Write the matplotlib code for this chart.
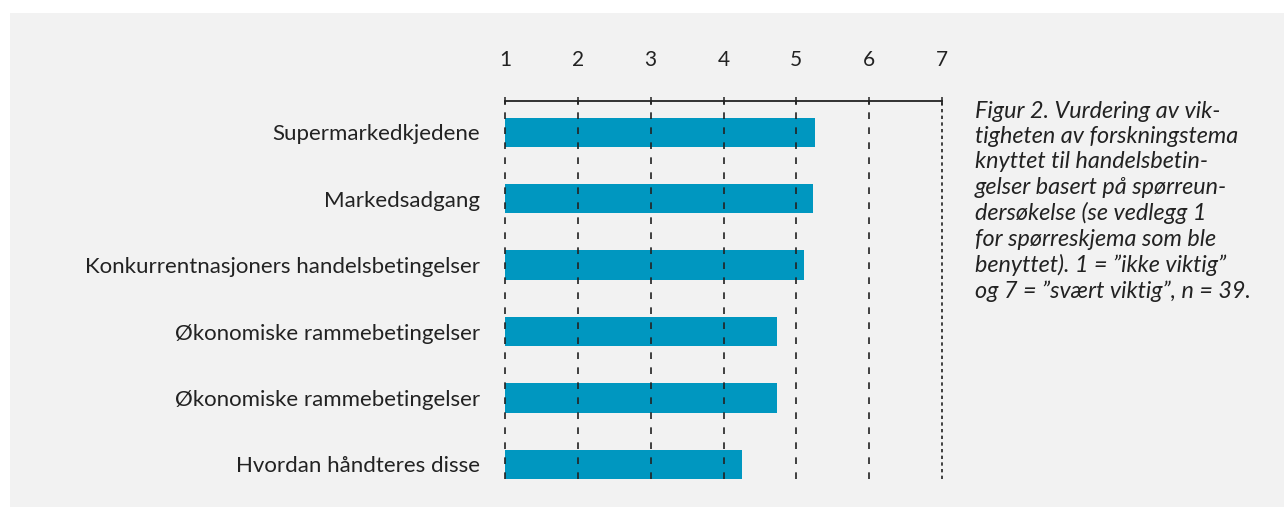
import numpy as np
import matplotlib.pyplot as plt
from matplotlib.patches import Rectangle

# data
categories = ['Supermarkedkjedene', 'Markedsadgang',
              'Konkurrentnasjoners handelsbetingelser',
              'Økonomiske rammebetingelser', 'Økonomiske rammebetingelser',
              'Hvordan håndteres disse']
values = [5.26, 5.23, 5.10, 4.74, 4.74, 4.26]
ticks = [1, 2, 3, 4, 5, 6, 7]
caption = ('Figur 2. Vurdering av vik-\n'
           'tigheten av forskningstema\n'
           'knyttet til handelsbetin-\n'
           'gelser basert på spørreun-\n'
           'dersøkelse (se vedlegg 1\n'
           'for spørreskjema som ble\n'
           'benyttet). 1 = ”ikke viktig”\n'
           'og 7 = ”svært viktig”, n = 39.')

plt.rcParams['font.family'] = ['Lato', 'DejaVu Sans']
bg = '#f2f2f2'
W, H = 1284, 507

fig = plt.figure(figsize=(12.84, 5.07), dpi=100)
fig.patch.set_facecolor('white')
fig.patches.append(Rectangle((10 / W, 0), 1 - 10 / W, 1 - 13 / H,
                             transform=fig.transFigure, facecolor=bg,
                             edgecolor='none', zorder=-10))

ax = fig.add_axes([505 / W, 1 - 479 / H, 437 / W, 378 / H])
ax.set_facecolor('none')

y = np.arange(len(categories))
ax.barh(y, np.array(values) - 1, left=1, height=0.44, color='#0097c0', zorder=1)

ax.set_xlim(1, 7)
ax.set_ylim(5.22, -0.47)

for t in ticks:
    ls = (0, (2, 2)) if t == 7 else (0, (4, 5))
    ax.axvline(t, color='#222222', lw=1.2, ls=ls, zorder=2, clip_on=False)

for s in ['bottom', 'left', 'right']:
    ax.spines[s].set_visible(False)
ax.spines['top'].set_color('#222222')
ax.spines['top'].set_linewidth(1.3)

ax.xaxis.tick_top()
ax.set_xticks(ticks)
ax.set_xticklabels([str(t) for t in ticks])
ax.tick_params(axis='x', direction='inout', length=6, width=1.1,
               pad=19, labelsize=15, colors='#222222')
ax.set_yticks(y)
ax.set_yticklabels(categories)
ax.tick_params(axis='y', length=0, pad=18, labelsize=16, colors='#222222')

fig.text(975 / W, 1 - 101 / H, caption, ha='left', va='top', fontsize=16.8,
         style='italic', color='#222222', linespacing=1.25)

fig.savefig('out.png', dpi=100, facecolor=fig.get_facecolor())
